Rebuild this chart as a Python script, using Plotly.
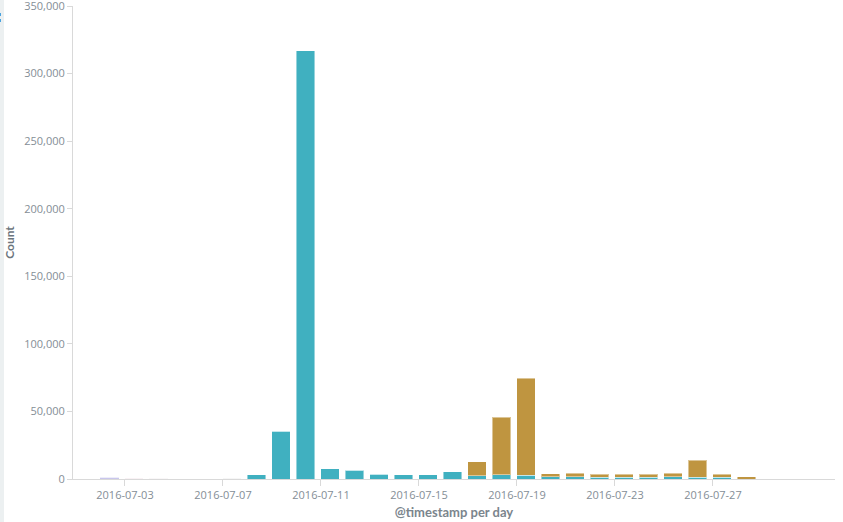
import plotly.graph_objects as go

days = ["2016-07-%02d" % d for d in range(2, 29)]
teal_vals = [0, 0, 0, 0, 0, 0, 3200, 35200, 317000, 7600, 6400, 3700, 3200, 3000, 5200,
             2300, 3000, 2700, 1700, 1700, 1200, 1200, 1200, 1500, 1200, 1300, 0]
gold_vals = [0, 0, 0, 0, 0, 0, 0, 0, 0, 0, 0, 0, 0, 0, 0,
             10500, 42600, 71800, 2200, 2700, 2500, 2300, 2500, 2700, 12600, 2400, 1500]
other_days = ["2016-07-02", "2016-07-03", "2016-07-04", "2016-07-07"]
other_vals = [900, 700, 600, 500]
other_colors = ["#c9c6ec", "#ecd6de", "#ece4ea", "#e2e2e2"]

tick_vals = ["2016-07-03", "2016-07-07", "2016-07-11", "2016-07-15", "2016-07-19", "2016-07-23", "2016-07-27"]
y_ticks = [0, 50000, 100000, 150000, 200000, 250000, 300000, 350000]

DAY = 86400000
W = 0.75 * DAY

fig = go.Figure()
fig.add_trace(go.Bar(x=other_days, y=other_vals, offset=0, width=W,
                     marker=dict(color=other_colors, line=dict(width=0)), hoverinfo="x+y"))
fig.add_trace(go.Bar(x=days, y=teal_vals, offset=0, width=W,
                     marker=dict(color="#40b0c0", line=dict(width=1, color="rgba(255,255,255,0.45)"))))
fig.add_trace(go.Bar(x=days, y=gold_vals, offset=0, width=W,
                     marker=dict(color="#bf9540", line=dict(width=1, color="rgba(255,255,255,0.45)"))))

axis_col = "#d9d9d9"
tick_font = dict(family="Open Sans, sans-serif", size=11, color="#848e96")

fig.update_layout(
    width=843, height=522,
    barmode="stack",
    showlegend=False,
    plot_bgcolor="white", paper_bgcolor="white",
    margin=dict(l=73, r=8, t=6, b=43, autoexpand=False),
    xaxis=dict(
        type="date",
        automargin=False,
        range=["2016-06-30T21:05:00", "2016-07-31T23:32:00"],
        tickvals=tick_vals, ticktext=tick_vals,
        ticks="outside", ticklen=6, tickcolor=axis_col,
        showline=True, linecolor=axis_col, linewidth=1,
        showgrid=False, zeroline=False,
        tickfont=tick_font,
        title=dict(text="<b>@timestamp per day</b>", standoff=6,
                   font=dict(family="Lato, sans-serif", size=13, color="#7b858d")),
    ),
    yaxis=dict(
        automargin=False,
        range=[0, 350050],
        tickvals=y_ticks, tickformat=",",
        ticks="outside", ticklen=5, tickcolor=axis_col,
        ticklabeloverflow="allow",
        showline=True, linecolor=axis_col, linewidth=1,
        showgrid=False, zeroline=False,
        tickfont=tick_font,
        title=dict(text="<b>Count</b>", standoff=7,
                   font=dict(family="Lato, sans-serif", size=12, color="#6c757d")),
    ),
    shapes=[
        dict(type="rect", xref="paper", yref="paper", x0=-73/762, x1=-69/762, y0=-43/473, y1=1 + 6/473,
             fillcolor="#ecf0f1", line=dict(width=0), layer="below"),
        dict(type="line", xref="paper", yref="paper", x0=-72.5/762, x1=-72.5/762,
             y0=1 - 7/473, y1=1 - 17/473, line=dict(color="#4aa3df", width=1, dash="dot")),
    ],
)

fig.write_html("out.html", config={"displayModeBar": False},
               post_script="document.body.style.margin='0';document.body.style.padding='0';")
